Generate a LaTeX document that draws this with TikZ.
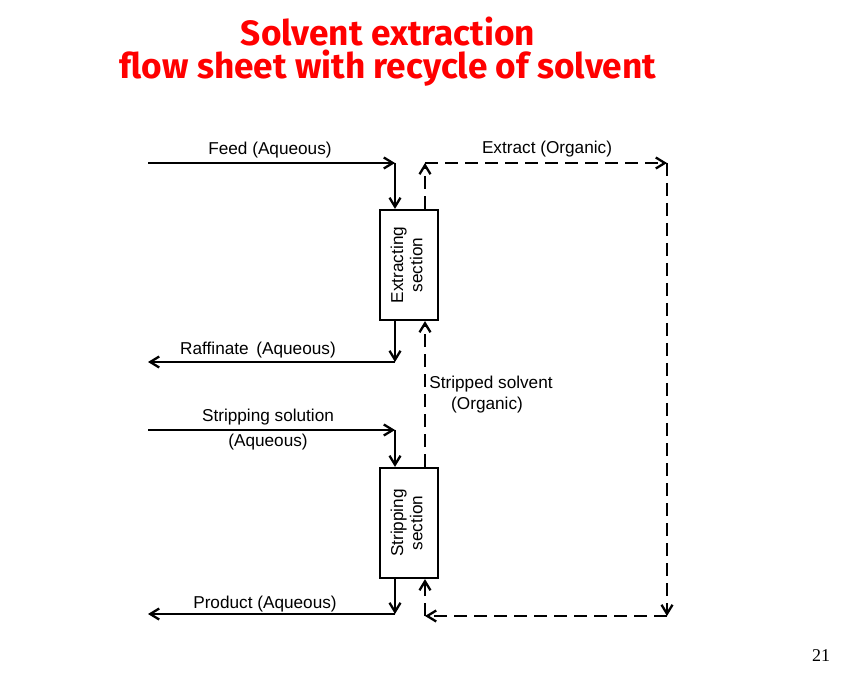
\documentclass[tikz,border=0pt]{standalone}
\usepackage{fontspec}
\setmainfont{Liberation Sans}
\newfontfamily\titlefont{Fira Sans}
\newfontfamily\pagefont{Liberation Serif}
\usepackage{xcolor}
\usetikzlibrary{arrows.meta, calc}
\definecolor{titleRed}{RGB}{255, 0, 0}

\begin{document}
\begin{tikzpicture}[
        x=0.5pt, y=-0.5pt,
        font=\fontsize{8.6}{9.6}\selectfont,
        sect/.style={rectangle, draw, line width=1.1pt, minimum width=29pt, minimum height=55pt,
            inner sep=0pt, align=center},
        flow/.style={-{Straight Barb[length=4.5pt, width=5.5pt]}, line width=1.15pt},
        dflow/.style={flow, dash pattern=on 6.5pt off 3.5pt},
        lbl/.style={inner sep=1pt, align=center}
    ]
    \useasboundingbox (0,0) rectangle (851,673);
    % title
    \node[font=\titlefont\bfseries\fontsize{17.6}{20}\selectfont, text=titleRed] (title1) at (388,32) {Solvent extraction};
    \node[font=\titlefont\bfseries\fontsize{17.6}{20}\selectfont, text=titleRed] (title2) at (388,68) {flow sheet with recycle of solvent};
    % sections
    \node[sect] (ext) at (409,265) {\rotatebox{90}{\begin{tabular}{@{}c@{}}Extracting\\section\end{tabular}}};
    \node[sect] (strip) at (409,523) {\rotatebox{90}{\begin{tabular}{@{}c@{}}Stripping\\section\end{tabular}}};
    % corners of the streams
    \coordinate (feedin) at (148,163);
    \coordinate (feedc) at (395,163);
    \coordinate (extc) at (425,163);
    \coordinate (extr) at (667,163);
    \coordinate (recr) at (667,616);
    \coordinate (recc) at (425,616);
    \coordinate (rafc) at (395,362);
    \coordinate (rafout) at (148,362);
    \coordinate (solin) at (148,430);
    \coordinate (solc) at (395,430);
    \coordinate (prodc) at (395,614);
    \coordinate (prodout) at (148,614);
    % aqueous streams
    \draw[flow] (feedin) -- (feedc);
    \draw[flow] (feedc) -- (feedc |- ext.north);
    \draw[flow] (ext.south -| rafc) -- (rafc);
    \draw[flow] (rafc) -- (rafout);
    \draw[flow] (solin) -- (solc);
    \draw[flow] (solc) -- (solc |- strip.north);
    \draw[flow] (strip.south -| prodc) -- (prodc);
    \draw[flow] (prodc) -- (prodout);
    % organic streams
    \draw[dflow] (ext.north -| extc) -- (extc);
    \draw[dflow] (extc) -- (extr);
    \draw[dflow] (extr) -- (recr);
    \draw[dflow] (recr) -- (recc);
    \draw[dflow] (recc) -- (recc |- strip.south);
    \draw[dflow] (strip.north -| extc) -- (extc |- ext.south);
    % labels
    \node[lbl] (feedlbl) at (270,150) {Feed (Aqueous)};
    \node[lbl] (extlbl) at (547,149) {Extract (Organic)};
    \node[lbl] (raflbl) at (258,350) {Raffinate\, (Aqueous)};
    \node[lbl] (sollbl) at (268,417) {Stripping solution};
    \node[lbl] (solaq) at (268,442) {(Aqueous)};
    \node[lbl] (stsolv) at (491,384) {Stripped solvent};
    \node[lbl] (stsorg) at (487,405) {(Organic)};
    \node[lbl] (prodlbl) at (265,604) {Product (Aqueous)};
    % page number
    \node[font=\pagefont\fontsize{9}{10}\selectfont] (pagenum) at (821,656) {21};
\end{tikzpicture}
\end{document}
